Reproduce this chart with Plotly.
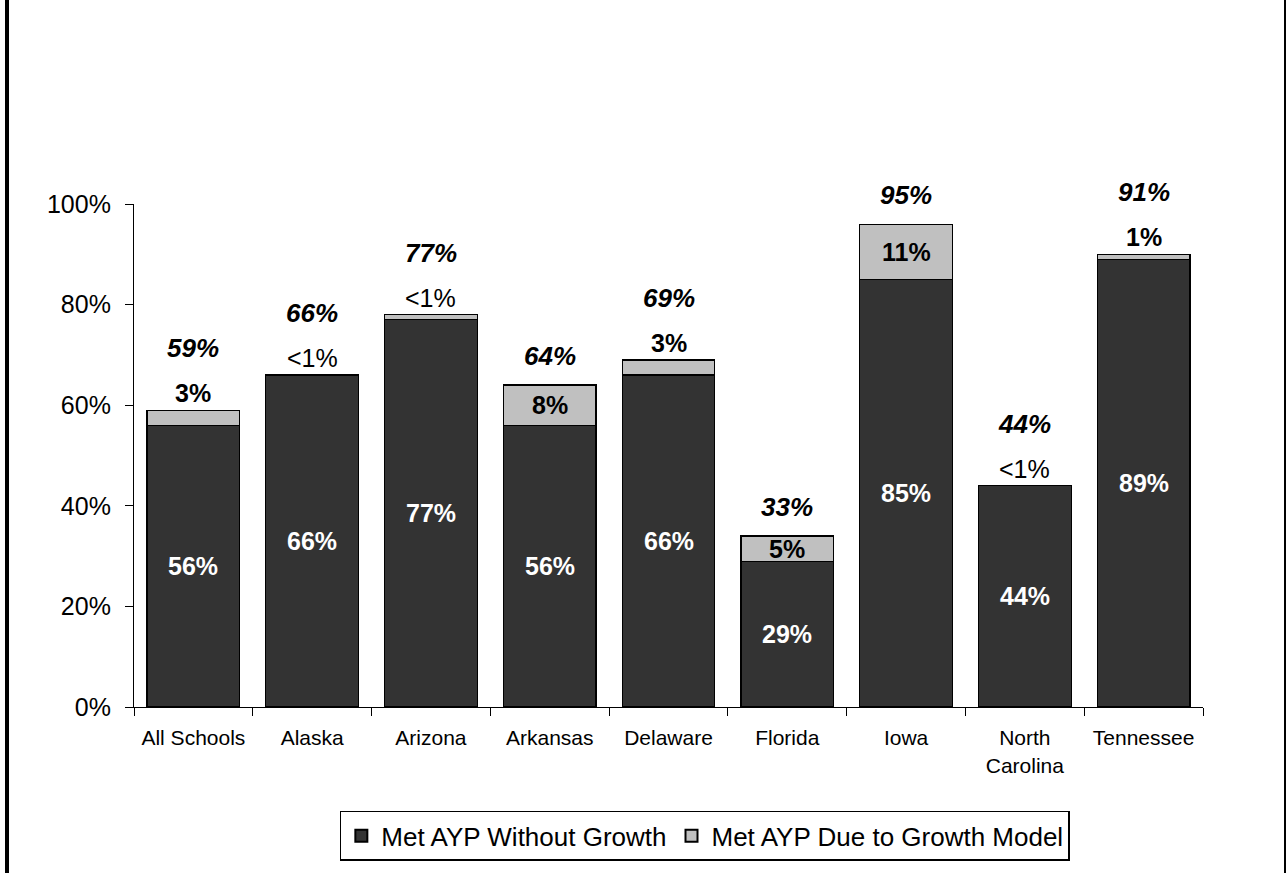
import plotly.graph_objects as go

categories = ["All Schools", "Alaska", "Arizona", "Arkansas", "Delaware",
              "Florida", "Iowa", "North<br>Carolina", "Tennessee"]
without_growth = [56, 66, 77, 56, 66, 29, 85, 44, 89]
due_to_growth = [3, 0, 1, 8, 3, 5, 11, 0, 1]
without_labels = ["56%", "66%", "77%", "56%", "66%", "29%", "85%", "44%", "89%"]
growth_labels = ["3%", "<1%", "<1%", "8%", "3%", "5%", "11%", "<1%", "1%"]
total_labels = ["59%", "66%", "77%", "64%", "69%", "33%", "95%", "44%", "91%"]
growth_inside = [False, False, False, True, False, True, True, False, False]
y_ticks = [0, 20, 40, 60, 80, 100]
y_tick_text = ["0%", "20%", "40%", "60%", "80%", "100%"]

DARK = "#333333"
LIGHT = "#C0C0C0"
FONT = "Liberation Sans, Arial, sans-serif"

fig = go.Figure()
fig.add_trace(go.Bar(x=categories, y=without_growth, name="Met AYP Without Growth",
                     marker=dict(color=DARK, line=dict(color="black", width=1.2))))
fig.add_trace(go.Bar(x=categories, y=due_to_growth, name="Met AYP Due to Growth Model",
                     marker=dict(color=LIGHT, line=dict(color="black", width=1.2))))

annotations = []
for i, cat in enumerate(categories):
    d = without_growth[i]
    g = due_to_growth[i]
    top = d + g
    annotations.append(dict(x=cat, y=d / 2, text="<b>" + without_labels[i] + "</b>",
                            showarrow=False, font=dict(color="white", size=25, family=FONT)))
    glab = growth_labels[i]
    gtxt = glab if glab.startswith("<") else "<b>" + glab + "</b>"
    if growth_inside[i]:
        annotations.append(dict(x=cat, y=d + g / 2, text=gtxt, showarrow=False,
                                font=dict(color="black", size=25, family=FONT)))
        tshift = 29
    else:
        annotations.append(dict(x=cat, y=top, text=gtxt, showarrow=False, yshift=17,
                                font=dict(color="black", size=25, family=FONT)))
        tshift = 62
    annotations.append(dict(x=cat, y=top, text="<b><i>" + total_labels[i] + "</i></b>",
                            showarrow=False, yshift=tshift,
                            font=dict(color="black", size=26, family=FONT)))

L, R, T, B = 134, 85, 204, 166
PW = 1288 - L - R

def px_to_paper(px):
    return (px - L) / PW

shapes = [
    dict(type="line", xref="paper", yref="paper", x0=px_to_paper(7), x1=px_to_paper(7),
         y0=-1, y1=2, line=dict(color="black", width=4)),
    dict(type="line", xref="paper", yref="paper", x0=px_to_paper(1285), x1=px_to_paper(1285),
         y0=-1, y1=2, line=dict(color="black", width=2)),
]

fig.update_layout(
    barmode="stack",
    bargap=0.22,
    width=1288, height=873,
    margin=dict(l=L, r=R, t=T, b=B),
    paper_bgcolor="white", plot_bgcolor="white",
    font=dict(family=FONT, color="black"),
    showlegend=True,
    legend=dict(orientation="h", x=0.534, xanchor="center", y=-0.256, yanchor="middle",
                bordercolor="black", borderwidth=1.5, bgcolor="white",
                font=dict(size=26, family=FONT), itemsizing="constant",
                traceorder="normal", itemwidth=30, tracegroupgap=0),
    annotations=annotations,
    shapes=shapes,
)
fig.update_xaxes(showline=True, linecolor="black", linewidth=1.2, ticks="outside",
                 tickson="boundaries", ticklen=8, tickcolor="black", showgrid=False,
                 tickfont=dict(size=21, family=FONT), ticklabelstandoff=12,
                 fixedrange=True)
fig.update_yaxes(range=[0, 100], showline=True, linecolor="black", linewidth=1.2,
                 ticks="outside", ticklen=8, tickcolor="black", showgrid=False,
                 tickvals=y_ticks, ticktext=y_tick_text, ticklabelstandoff=9,
                 tickfont=dict(size=25, family=FONT), zeroline=False)

fig.write_html("out.html")
